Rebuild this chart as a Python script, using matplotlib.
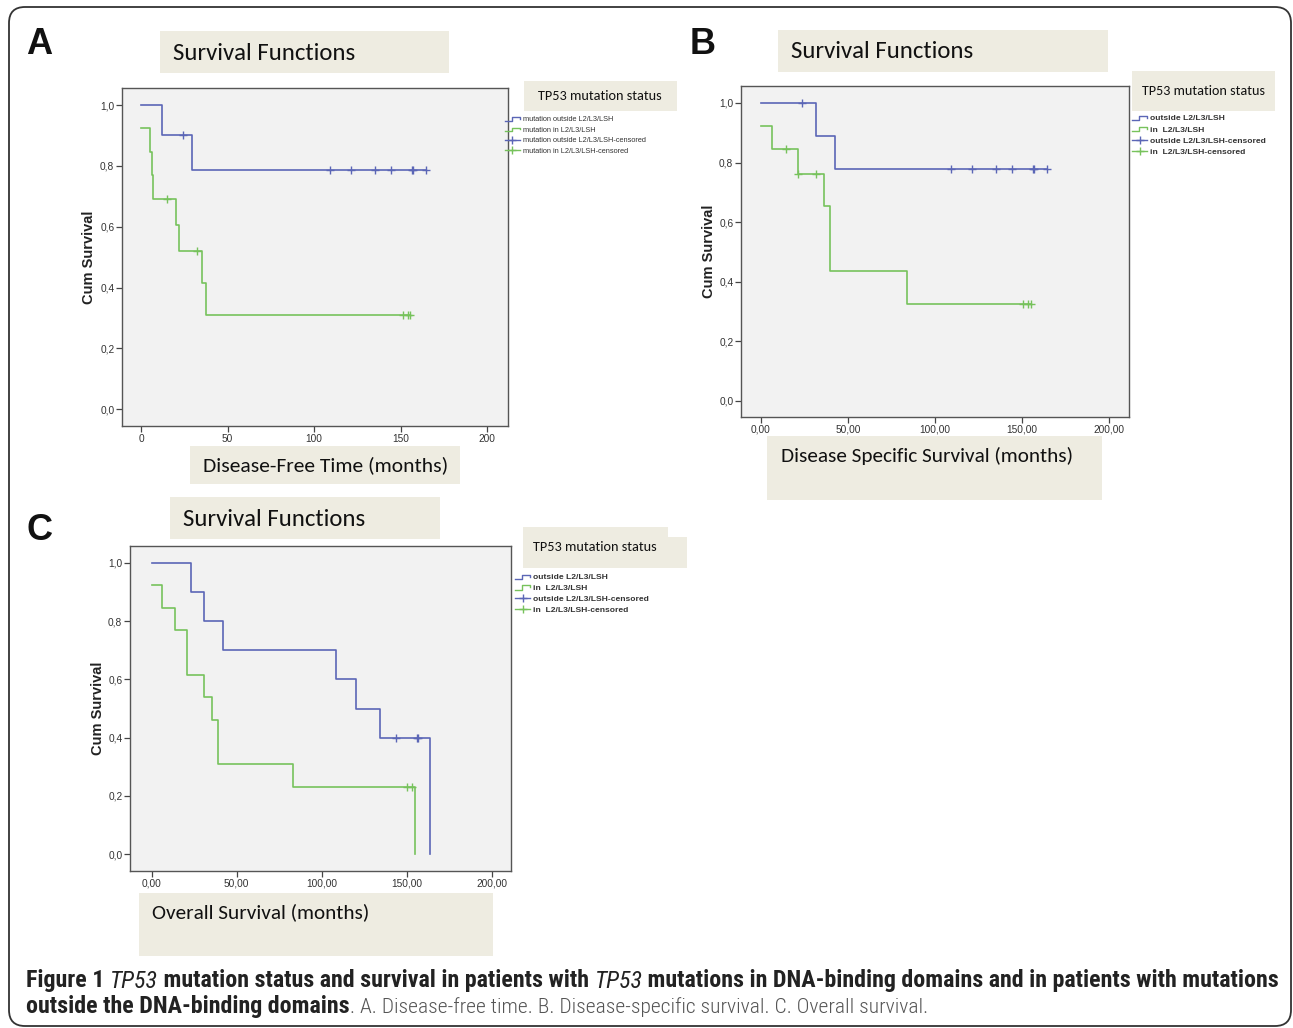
import matplotlib
matplotlib.use('Agg')
import matplotlib.pyplot as plt
import numpy as np
from matplotlib.patches import Rectangle, FancyBboxPatch
from matplotlib.lines import Line2D
from matplotlib.legend_handler import HandlerBase
from matplotlib import font_manager

# ---- data (months, cumulative survival) ----
a_out_t = [0, 12.0, 29.5, 164.6]
a_out_s = [1.0, 0.900, 0.788, 0.788]
a_out_c = [24.4, 109.2, 121.3, 135.1, 144.4, 156.3, 156.9, 164.6]
a_in_t = [0, 5.4, 6.2, 7.0, 20.2, 21.9, 35.2, 37.3, 155.3]
a_in_s = [0.923, 0.846, 0.769, 0.692, 0.606, 0.519, 0.415, 0.311, 0.311]
a_in_c = [15.2, 32.2, 151.1, 154.4, 155.3]

b_out_t = [0, 31.9, 42.8, 164.1]
b_out_s = [1.0, 0.889, 0.778, 0.778]
b_out_c = [23.9, 109.0, 121.0, 134.8, 144.0, 156.0, 156.8, 164.1]
b_in_t = [0, 6.7, 21.6, 36.5, 39.6, 83.9, 154.9]
b_in_s = [0.923, 0.846, 0.762, 0.653, 0.435, 0.326, 0.326]
b_in_c = [14.5, 21.6, 31.7, 150.6, 153.5, 154.9]

c_out_t = [0, 22.9, 30.8, 42.0, 108.4, 120.4, 134.5, 163.9]
c_out_s = [1.0, 0.9, 0.8, 0.7, 0.6, 0.5, 0.4, 0.0]
c_out_c = [143.5, 155.9, 156.5]
c_in_t = [0, 5.9, 13.7, 20.8, 30.8, 35.7, 39.0, 83.3, 154.9]
c_in_s = [0.923, 0.846, 0.769, 0.615, 0.538, 0.462, 0.308, 0.231, 0.0]
c_in_c = [150.2, 152.9]

x_ticks = [0, 50, 100, 150, 200]
y_ticks = [0.0, 0.2, 0.4, 0.6, 0.8, 1.0]
p_texts = ["P < 0.05", "P < 0.05", "P = 0.06"]
x_titles = ["Disease-Free Time (months)", "Disease Specific Survival (months)", "Overall Survival (months)"]
legend_a = ["mutation outside L2/L3/LSH", "mutation in L2/L3/LSH",
            "mutation outside L2/L3/LSH-censored", "mutation in L2/L3/LSH-censored"]
legend_bc = ["outside L2/L3/LSH", "in  L2/L3/LSH",
             "outside L2/L3/LSH-censored", "in  L2/L3/LSH-censored"]

BLUE = '#5b66b6'
GREEN = '#77c25c'
BEIGE = '#eeece1'

names = {f.name for f in font_manager.fontManager.ttflist}
def pick(*fams):
    for f in fams:
        if f in names:
            return f
    return 'DejaVu Sans'
CAL = pick('Carlito', 'Lato', 'Open Sans')
ARIAL = pick('Liberation Sans', 'DejaVu Sans')
NARROW = pick('Liberation Sans Narrow', 'Roboto Condensed', 'Liberation Sans')

W, H = 1293, 1028
fig = plt.figure(figsize=(W / 100, H / 100), dpi=100)
renderer = fig.canvas.get_renderer()

bg = fig.add_axes([0, 0, 1, 1], zorder=0)
bg.set_xlim(0, W)
bg.set_ylim(H, 0)
bg.axis('off')

bg.add_patch(FancyBboxPatch((9, 7), 1282, 1019, boxstyle='round,pad=0,rounding_size=16',
                            fill=False, ec='#333333', lw=1.3))


def box(l, t, r, b):
    bg.add_patch(Rectangle((l, t), r - l, b - t, fc=BEIGE, ec='none'))


def fit_text(x, y, s, width, **kw):
    t = bg.text(x, y, s, fontsize=10, ha='left', va='center', **kw)
    w = t.get_window_extent(renderer).width
    t.set_fontsize(10 * width / w)
    return t


class StepHandler(HandlerBase):
    def create_artists(self, legend, orig_handle, xd, yd, width, height, fontsize, trans):
        xs = np.array([0, 0.45, 0.45, 1.0, 1.0]) * width - xd
        ys = np.array([0.1, 0.1, 0.8, 0.8, 0.45]) * height - yd
        return [Line2D(xs, ys, color=orig_handle.get_color(), lw=1.0, transform=trans)]


def panel(rect, xzero, x200, y1, y0, curves, tick_fmt, p_text, p_pos, ylab_pos):
    l, t, r, b = rect
    ax = fig.add_axes([l / W, 1 - b / H, (r - l) / W, (b - t) / H], zorder=2)
    ppx = (x200 - xzero) / 200.0
    ax.set_xlim((l - xzero) / ppx, (r - xzero) / ppx)
    ppy = (y0 - y1)
    ax.set_ylim(-(b - y0) / ppy, 1 + (y1 - t) / ppy)
    ax.set_facecolor('#f2f2f2')
    for sp in ax.spines.values():
        sp.set_color('#555555')
        sp.set_linewidth(1.0)
    for times, surv, cens, col in curves:
        ax.step(times, surv, where='post', color=col, lw=1.2)
        idx = np.searchsorted(times, cens, side='right') - 1
        ax.plot(cens, np.asarray(surv)[idx], ls='none', marker='+', ms=6, mew=1.0, color=col)
    ax.set_xticks(x_ticks)
    ax.set_xticklabels([tick_fmt(v) for v in x_ticks])
    ax.set_yticks(y_ticks)
    ax.set_yticklabels([('%.1f' % v).replace('.', ',') for v in y_ticks])
    ax.tick_params(direction='out', length=4, width=0.9, color='#444444', labelsize=7.3,
                   labelcolor='#333333', pad=1.5)
    for lab in ax.get_xticklabels() + ax.get_yticklabels():
        lab.set_family(ARIAL)
    ax.set_ylabel('Cum Survival', fontsize=10.5, fontweight='bold', family=ARIAL, color='#222222')
    ax.yaxis.label.set_va('center')
    ax.yaxis.set_label_coords((ylab_pos[0] - l) / (r - l), (b - ylab_pos[1]) / (b - t))
    fit_text(p_pos[0], p_pos[1], p_text, p_pos[2], family=CAL, color='#111111')
    return ax


def legend(ax, labels, x, y, fs, weight, spacing, hl, pad):
    h_out = Line2D([], [], color=BLUE)
    h_in = Line2D([], [], color=GREEN)
    c_out = Line2D([], [], color=BLUE, marker='+', ms=6, lw=1.0)
    c_in = Line2D([], [], color=GREEN, marker='+', ms=6, lw=1.0)
    leg = ax.legend([h_out, h_in, c_out, c_in], labels, loc='upper left',
                    bbox_to_anchor=(x / W, 1 - y / H), bbox_transform=fig.transFigure,
                    frameon=False, borderpad=0, borderaxespad=0, handlelength=hl,
                    handletextpad=pad, labelspacing=spacing, numpoints=1,
                    handler_map={h_out: StepHandler(), h_in: StepHandler()},
                    prop={'family': ARIAL, 'size': fs, 'weight': weight})
    for txt in leg.get_texts():
        txt.set_color('#333333')


fmt_int = lambda v: '%d' % v
fmt_dec = lambda v: ('%.2f' % v).replace('.', ',')

# ---- panel A ----
box(160, 31, 449, 73)
fit_text(173, 53, 'Survival Functions', 183, family=CAL, color='#111111')
axA = panel((122, 88, 508, 426), 141, 487.3, 105, 409.3,
            [(a_out_t, a_out_s, a_out_c, BLUE), (a_in_t, a_in_s, a_in_c, GREEN)],
            fmt_int, p_texts[0], (355, 242, 69), (89, 257))
box(524, 81, 677, 111)
fit_text(538, 96, 'TP53 mutation status', 124, family=CAL, color='#111111')
legend(axA, legend_a, 505, 116, 5.3, 'normal', 0.47, 2.0, 0.5)
box(190, 446, 460, 484)
fit_text(203, 465, x_titles[0], 244, family=CAL, color='#111111')

# ---- panel B ----
box(778, 30, 1108, 72)
fit_text(791, 52, 'Survival Functions', 183, family=CAL, color='#111111')
axB = panel((741, 86, 1129, 417), 760.7, 1109.3, 103, 401,
            [(b_out_t, b_out_s, b_out_c, BLUE), (b_in_t, b_in_s, b_in_c, GREEN)],
            fmt_dec, p_texts[1], (984, 222, 69), (709, 251))
box(1132, 71, 1275, 111)
fit_text(1142, 91, 'TP53 mutation status', 123, family=CAL, color='#111111')
legend(axB, legend_bc, 1132, 114.5, 6.1, 'bold', 0.38, 1.8, 0.3)
box(767, 436, 1102, 500)
fit_text(781, 456, x_titles[1], 294, family=CAL, color='#111111')

# ---- panel C ----
box(170, 497, 440, 539)
fit_text(183, 519, 'Survival Functions', 183, family=CAL, color='#111111')
axC = panel((130, 546, 511, 871), 151.7, 491.7, 562.7, 854.3,
            [(c_out_t, c_out_s, c_out_c, BLUE), (c_in_t, c_in_s, c_in_c, GREEN)],
            fmt_dec, p_texts[2], (376, 658, 69), (97.5, 708))
box(523, 527, 668, 568)
box(668, 537, 687, 568)
fit_text(533, 547, 'TP53 mutation status', 124, family=CAL, color='#111111')
legend(axC, legend_bc, 515, 573.5, 6.1, 'bold', 0.33, 1.8, 0.3)
box(139, 893, 493, 956)
fit_text(152, 912, x_titles[2], 219, family=CAL, color='#111111')

# panel letters
for letter, x, y in [('A', 26, 44), ('B', 690, 44), ('C', 26, 530)]:
    bg.text(x, y, letter, fontsize=26, fontweight='bold', family=ARIAL, ha='left', va='center',
            color='#111111')

# ---- caption ----
line1 = [("Figure 1 ", 'bold', 'normal', '#222222'),
         ("TP53", 'normal', 'italic', '#222222'),
         (" mutation status and survival in patients with ", 'bold', 'normal', '#222222'),
         ("TP53", 'normal', 'italic', '#222222'),
         (" mutations in DNA-binding domains and in patients with mutations", 'bold', 'normal', '#222222')]
line2 = [("outside the DNA-binding domains", 'bold', 'normal', '#222222'),
         (". A. Disease-free time. B. Disease-specific survival. C. Overall survival.", 'light', 'normal', '#555555')]


def place_line(segs, y, fs, last_w=None):
    x = 26
    for i, (s, wgt, sty, col) in enumerate(segs):
        t = bg.text(x, y, s, fontsize=fs, fontweight=wgt, fontstyle=sty, family=NARROW,
                    ha='left', va='center', color=col)
        w = t.get_window_extent(renderer).width
        if last_w is not None and i == len(segs) - 1:
            t.set_fontsize(fs * last_w / w)
            w = last_w
        x += w


tot = 0
for s, wgt, sty, col in line1:
    t = bg.text(0, 0, s, fontsize=10, fontweight=wgt, fontstyle=sty, family=NARROW)
    tot += t.get_window_extent(renderer).width
    t.remove()
cap_fs = 10 * 1252 / tot
place_line(line1, 981, cap_fs)
place_line(line2, 1007, cap_fs, last_w=578)

fig.savefig('out.png', dpi=100)
